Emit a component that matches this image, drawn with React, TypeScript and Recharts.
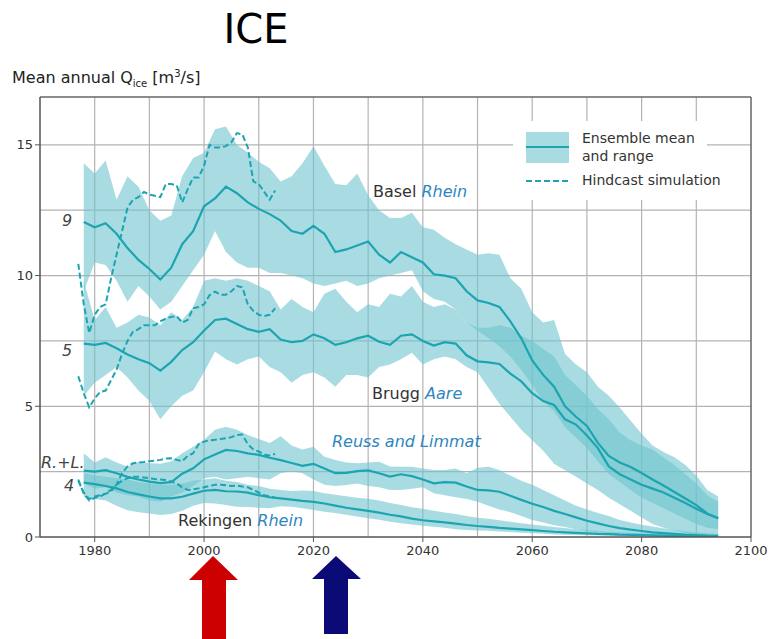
import { ComposedChart, Area, Line, XAxis, YAxis, CartesianGrid, ReferenceLine } from 'recharts';

const FONT = '"DejaVu Sans", "Liberation Sans", Arial, sans-serif';
const TEAL = '#1ca5b1';
const BAND = '#6ec5cf';
const BLUE_TXT = '#2e86c1';
const Y_MAX = 16.83;

// ensemble years (every 2nd year)
const years = [
  1978, 1980, 1982, 1984, 1986, 1988, 1990, 1992, 1994, 1996,
  1998, 2000, 2002, 2004, 2006, 2008, 2010, 2012, 2014, 2016,
  2018, 2020, 2022, 2024, 2026, 2028, 2030, 2032, 2034, 2036,
  2038, 2040, 2042, 2044, 2046, 2048, 2050, 2052, 2054, 2056,
  2058, 2060, 2062, 2064, 2066, 2068, 2070, 2072, 2074, 2076,
  2078, 2080, 2082, 2084, 2086, 2088, 2090, 2092, 2094,
];

// Basel Rhein (9)
const baselMean = [
  12.05, 11.85, 12.0, 11.6, 11.05, 10.6, 10.25, 9.85, 10.3, 11.2,
  11.7, 12.65, 12.95, 13.4, 13.15, 12.8, 12.55, 12.35, 12.1, 11.7,
  11.6, 11.9, 11.6, 10.9, 11.0, 11.15, 11.3, 10.8, 10.5, 10.9,
  10.7, 10.5, 10.05, 10.0, 9.9, 9.4, 9.05, 8.95, 8.8, 8.25,
  7.6, 6.75, 6.2, 5.75, 5.0, 4.6, 4.25, 3.6, 3.1, 2.85,
  2.68, 2.45, 2.2, 1.97, 1.72, 1.47, 1.22, 0.9, 0.72,
];
const baselHi = [
  14.3, 13.9, 14.4, 12.9, 13.8, 13.4, 12.5, 12.1, 12.3, 13.8,
  14.5, 14.7, 15.6, 15.7, 15.0, 14.7, 14.35, 14.1, 13.6, 13.8,
  14.3, 14.95, 14.2, 13.5, 13.45, 13.9, 13.07, 12.5, 12.2, 12.2,
  12.4, 11.85, 11.75, 11.45, 11.2, 11.0, 10.8, 10.85, 10.8, 9.9,
  9.5, 8.6, 8.2, 8.3, 7.0, 6.6, 6.3, 5.75, 5.4, 4.95,
  4.45, 3.95, 3.5, 3.25, 3.05, 2.75, 2.35, 1.8, 1.55,
];
const baselLo = [
  9.4, 10.5, 10.4, 9.8, 9.0, 9.6, 9.2, 8.7, 9.0, 9.6,
  10.2, 10.8, 11.7, 10.9, 10.5, 10.3, 10.3, 10.1, 10.1, 10.0,
  9.9, 9.7, 9.6, 9.7, 9.8, 9.6, 9.7, 9.9, 10.0, 10.1,
  10.2, 9.4, 9.1, 9.0, 8.7, 8.2, 7.9, 7.6, 7.3, 6.9,
  6.4, 5.8, 5.2, 4.8, 4.2, 3.8, 3.4, 2.9, 2.4, 2.1,
  1.8, 1.5, 1.3, 1.1, 0.9, 0.7, 0.5, 0.35, 0.3,
];

// Brugg Aare (5)
const aareMean = [
  7.4, 7.35, 7.42, 7.22, 6.98, 6.8, 6.65, 6.36, 6.7, 7.15,
  7.45, 7.9, 8.3, 8.35, 8.15, 7.95, 7.85, 7.95, 7.55, 7.45,
  7.5, 7.75, 7.6, 7.35, 7.45, 7.6, 7.7, 7.47, 7.35, 7.7,
  7.75, 7.5, 7.32, 7.45, 7.4, 6.95, 6.72, 6.68, 6.62, 6.25,
  5.95, 5.5, 5.2, 5.05, 4.5, 4.3, 3.88, 3.4, 2.7, 2.4,
  2.2, 2.0, 1.85, 1.7, 1.5, 1.3, 1.08, 0.88, 0.72,
];
const aareHi = [
  9.8, 8.3, 8.8, 8.0, 8.2, 8.5, 8.4, 8.1, 8.6, 8.3,
  8.8, 9.8, 9.9, 9.8, 9.9, 9.8, 9.6, 9.4, 8.7, 9.1,
  8.8, 8.6, 9.3, 9.5, 9.0, 8.6, 8.9, 8.8, 9.3, 9.2,
  9.6, 9.0, 8.8, 8.9, 8.7, 8.2, 8.0, 8.0, 8.1, 8.0,
  7.7, 7.5, 7.2, 6.9, 6.2, 5.8, 5.4, 4.9, 4.5, 4.0,
  3.7, 3.5, 3.35, 3.05, 2.75, 2.4, 2.05, 1.6, 1.35,
];
const aareLo = [
  5.4, 5.9, 6.2, 6.5, 6.1, 5.6, 5.2, 4.5, 5.0, 5.4,
  5.6, 6.3, 7.1, 6.8, 6.6, 6.8, 6.9, 6.5, 6.3, 5.9,
  6.2, 6.3, 6.1, 5.75, 6.2, 6.2, 6.1, 6.5, 6.6, 6.8,
  7.05, 6.6, 6.8, 6.9, 6.8, 6.5, 6.3, 5.7, 5.1, 4.6,
  4.1, 3.7, 3.3, 2.8, 2.55, 2.3, 2.05, 1.8, 1.5, 1.25,
  1.0, 0.75, 0.5, 0.35, 0.25, 0.15, 0.1, 0.07, 0.05,
];

// Reuss and Limmat (R.+L.)
const rlMean = [
  2.54, 2.5, 2.56, 2.44, 2.3, 2.2, 2.12, 2.06, 2.1, 2.42,
  2.63, 2.97, 3.16, 3.33, 3.29, 3.2, 3.14, 3.03, 2.94, 2.83,
  2.72, 2.8, 2.62, 2.44, 2.45, 2.52, 2.55, 2.44, 2.31, 2.4,
  2.33, 2.2, 2.05, 2.1, 2.08, 1.93, 1.8, 1.78, 1.73, 1.58,
  1.42, 1.27, 1.15, 1.0, 0.88, 0.75, 0.62, 0.52, 0.42, 0.34,
  0.28, 0.23, 0.18, 0.15, 0.12, 0.09, 0.07, 0.05, 0.04,
];
const rlHi = [
  3.2, 2.85, 3.05, 2.85, 2.7, 2.88, 2.82, 2.8, 2.9, 3.2,
  3.45, 3.72, 4.1, 4.22, 4.1, 3.9, 3.75, 3.6, 3.85, 3.5,
  3.35, 3.45, 3.07, 2.95, 2.85, 2.82, 2.85, 2.88, 2.7, 2.69,
  2.69, 2.62, 2.56, 2.56, 2.62, 2.44, 2.65, 2.69, 2.56, 2.35,
  2.15, 2.0, 1.8, 1.6, 1.4, 1.2, 1.05, 0.92, 0.8, 0.65,
  0.55, 0.47, 0.4, 0.33, 0.27, 0.22, 0.18, 0.14, 0.12,
];
const rlLo = [
  2.05, 1.85, 1.9, 1.7, 1.6, 1.55, 1.4, 1.35, 1.55, 1.7,
  1.95, 2.25, 2.3, 2.2, 2.25, 2.3, 2.25, 2.2, 2.44, 2.52,
  2.44, 2.2, 2.0, 1.95, 1.99, 2.05, 1.95, 1.9, 1.8, 1.8,
  1.85, 1.9, 1.67, 1.6, 1.52, 1.45, 1.35, 1.2, 1.05, 0.95,
  0.8, 0.65, 0.55, 0.45, 0.38, 0.3, 0.22, 0.17, 0.13, 0.1,
  0.08, 0.06, 0.05, 0.04, 0.03, 0.02, 0.02, 0.01, 0.01,
];

// Rekingen Rhein (4)
const rekMean = [
  2.08, 2.02, 1.95, 1.86, 1.72, 1.63, 1.55, 1.48, 1.48, 1.54,
  1.66, 1.77, 1.8, 1.75, 1.74, 1.7, 1.6, 1.52, 1.48, 1.43,
  1.38, 1.34, 1.28, 1.2, 1.12, 1.06, 1.0, 0.93, 0.85, 0.79,
  0.7, 0.64, 0.6, 0.56, 0.51, 0.46, 0.42, 0.39, 0.35, 0.32,
  0.29, 0.26, 0.23, 0.2, 0.18, 0.16, 0.14, 0.12, 0.11, 0.09,
  0.08, 0.07, 0.06, 0.05, 0.04, 0.04, 0.03, 0.03, 0.02,
];
const rekHi = [
  2.45, 2.35, 2.3, 2.25, 2.2, 2.1, 2.05, 2.0, 2.0, 2.05,
  2.15, 2.2, 2.25, 2.15, 2.1, 2.0, 1.95, 1.85, 1.8, 1.76,
  1.78, 1.76, 1.67, 1.62, 1.56, 1.5, 1.46, 1.4, 1.3, 1.22,
  1.14, 1.08, 1.0, 0.94, 0.88, 0.8, 0.74, 0.7, 0.64, 0.58,
  0.53, 0.48, 0.43, 0.38, 0.34, 0.3, 0.27, 0.23, 0.2, 0.18,
  0.16, 0.14, 0.12, 0.11, 0.1, 0.09, 0.08, 0.07, 0.06,
];
const rekLo = [
  1.55, 1.45, 1.4, 1.2, 1.02, 0.95, 0.9, 0.84, 0.88, 1.0,
  1.2, 1.3, 1.28, 1.22, 1.16, 1.15, 1.12, 1.1, 1.18, 1.16,
  1.1, 1.03, 0.97, 0.92, 0.85, 0.78, 0.72, 0.66, 0.58, 0.53,
  0.48, 0.43, 0.39, 0.35, 0.3, 0.27, 0.25, 0.24, 0.21, 0.19,
  0.16, 0.14, 0.12, 0.1, 0.09, 0.08, 0.07, 0.06, 0.05, 0.04,
  0.03, 0.03, 0.02, 0.02, 0.01, 0.01, 0.01, 0, 0,
];

// hindcast simulation, annual 1977-2013
const hindYears = [
  1977, 1978, 1979, 1980, 1981, 1982, 1983, 1984, 1985, 1986,
  1987, 1988, 1989, 1990, 1991, 1992, 1993, 1994, 1995, 1996,
  1997, 1998, 1999, 2000, 2001, 2002, 2003, 2004, 2005, 2006,
  2007, 2008, 2009, 2010, 2011, 2012, 2013,
];
const baselHind = [
  10.45, 8.9, 7.8, 8.5, 8.8, 8.9, 9.9, 10.8, 11.7, 12.6,
  12.9, 13.0, 13.2, 13.1, 13.05, 13.0, 13.5, 13.5, 13.45, 12.8,
  13.3, 13.75, 13.75, 14.2, 15.0, 14.9, 14.9, 14.95, 15.1, 15.45,
  15.4, 14.9, 13.6, 13.5, 13.2, 12.9, 13.25,
];
const aareHind = [
  6.15, 5.5, 4.96, 5.3, 5.55, 5.6, 6.0, 6.4, 7.0, 7.5,
  7.85, 7.95, 8.1, 8.1, 8.1, 8.25, 8.35, 8.42, 8.45, 8.2,
  8.3, 8.75, 8.8, 8.9, 9.25, 9.38, 9.27, 9.27, 9.4, 9.6,
  9.55, 8.9, 8.65, 8.5, 8.45, 8.5, 8.75,
];
const rlHind = [
  2.2, 1.65, 1.4, 1.5, 1.55, 1.67, 1.8, 2.0, 2.45, 2.7,
  2.82, 2.85, 2.87, 2.9, 2.92, 2.95, 3.0, 3.01, 2.95, 2.9,
  3.1, 3.2, 3.55, 3.65, 3.7, 3.72, 3.75, 3.78, 3.82, 3.9,
  3.92, 3.55, 3.35, 3.27, 3.15, 3.12, 3.18,
];
const rekHind = [
  2.15, 1.7, 1.45, 1.55, 1.6, 1.65, 1.75, 2.0, 2.15, 2.25,
  2.3, 2.3, 2.28, 2.25, 2.22, 2.2, 2.18, 2.12, 2.05, 1.9,
  1.8, 1.82, 1.86, 1.9, 1.95, 2.0, 2.0, 1.98, 1.95, 1.97,
  1.93, 1.9, 1.8, 1.7, 1.6, 1.55, 1.5,
];

const xTicks = [1980, 2000, 2020, 2040, 2060, 2080, 2100];
const yTicks = [0, 5, 10, 15];
const gridX = [1980, 1990, 2000, 2010, 2020, 2030, 2040, 2050, 2060, 2070, 2080, 2090];
const gridY = [2.5, 5, 7.5, 10, 12.5, 15];

const ensemble = years.map((year, i) => ({
  year,
  baselMean: baselMean[i],
  basel: [baselLo[i], baselHi[i]],
  aareMean: aareMean[i],
  aare: [aareLo[i], aareHi[i]],
  rlMean: rlMean[i],
  rl: [rlLo[i], rlHi[i]],
  rekMean: rekMean[i],
  rek: [rekLo[i], rekHi[i]],
}));

const hindcast = hindYears.map((year, i) => ({
  year,
  basel: baselHind[i],
  aare: aareHind[i],
  rl: rlHind[i],
  rek: rekHind[i],
}));

const bands = ['basel', 'aare', 'rl', 'rek'];
const means = ['baselMean', 'aareMean', 'rlMean', 'rekMean'];

function Overlay() {
  const label = { fontFamily: FONT, fontSize: 16, fill: '#333' };
  const num = { fontFamily: FONT, fontSize: 16, fill: '#444', fontStyle: 'italic' as const };
  return (
    <svg width={770} height={639} style={{ position: 'absolute', left: 0, top: 0, pointerEvents: 'none' }}>
      <text x={256} y={43} textAnchor="middle" fontFamily={FONT} fontSize={40} fill="#000">ICE</text>
      <text x={12} y={83} fontFamily={FONT} fontSize={16} fill="#222">
        Mean annual Q<tspan fontSize={10} dy={4}>ice</tspan>
        <tspan fontSize={16} dy={-4}> [m</tspan>
        <tspan fontSize={10} dy={-6}>3</tspan>
        <tspan fontSize={16} dy={6}>/s]</tspan>
      </text>

      {/* legend */}
      <rect x={513} y={121} width={194} height={79} fill="#fff" />
      <rect x={526} y={132} width={43} height={31} fill={BAND} fillOpacity={0.6} />
      <line x1={526} x2={569} y1={147} y2={147} stroke={TEAL} strokeWidth={2} />
      <line x1={526} x2={569} y1={181} y2={181} stroke={TEAL} strokeWidth={2} strokeDasharray="6 3" />
      <text x={582} y={143} fontFamily={FONT} fontSize={14} fill="#333">Ensemble mean</text>
      <text x={582} y={161} fontFamily={FONT} fontSize={14} fill="#333">and range</text>
      <text x={582} y={185} fontFamily={FONT} fontSize={14} fill="#333">Hindcast simulation</text>

      {/* series labels */}
      <text x={373} y={197} {...label}>Basel <tspan fill={BLUE_TXT} fontStyle="italic">Rhein</tspan></text>
      <text x={372} y={399} {...label}>Brugg <tspan fill={BLUE_TXT} fontStyle="italic">Aare</tspan></text>
      <text x={332} y={447} {...label} fill={BLUE_TXT} fontStyle="italic">Reuss and Limmat</text>
      <text x={178} y={526} {...label}>Rekingen <tspan fill={BLUE_TXT} fontStyle="italic">Rhein</tspan></text>
      <text x={62} y={226} {...num}>9</text>
      <text x={62} y={356} {...num}>5</text>
      <text x={41} y={468} {...num}>R.+L.</text>
      <text x={64} y={491} {...num}>4</text>

      {/* arrows */}
      <polygon points="213,556 238,580 226,580 226,639 202,639 202,580 189,580" fill="#cc0000" />
      <polygon points="336,556 361,579 348,579 348,634 324,634 324,579 312,579" fill="#0b0b78" />
    </svg>
  );
}

export default function App() {
  return (
    <div style={{ position: 'absolute', left: 0, top: 0, width: 770, height: 639, background: '#fff' }}>
      <ComposedChart
        width={770}
        height={639}
        data={ensemble}
        margin={{ top: 97, right: 19, bottom: 0, left: 0 }}
        style={{ fontFamily: FONT }}
      >
        <CartesianGrid stroke="#b3b3b3" strokeWidth={1.2} verticalValues={gridX} horizontalValues={gridY} />
        <XAxis
          type="number"
          dataKey="year"
          domain={[1970, 2100]}
          ticks={xTicks}
          height={102}
          allowDataOverflow
          tick={{ fill: '#333', fontSize: 13 }}
          tickSize={5}
          tickMargin={4}
          stroke="#555"
          axisLine={{ stroke: '#555', strokeWidth: 1.5 }}
        />
        <YAxis
          type="number"
          domain={[0, Y_MAX]}
          ticks={yTicks}
          width={40}
          allowDataOverflow
          tick={{ fill: '#333', fontSize: 13 }}
          tickSize={5}
          stroke="#555"
          axisLine={{ stroke: '#555', strokeWidth: 1.5 }}
        />
        {bands.map((k) => (
          <Area
            key={k}
            type="linear"
            dataKey={k}
            stroke="none"
            fill={BAND}
            fillOpacity={0.6}
            dot={false}
            activeDot={false}
            isAnimationActive={false}
          />
        ))}
        {means.map((k) => (
          <Line
            key={k}
            type="linear"
            dataKey={k}
            stroke={TEAL}
            strokeWidth={2.2}
            dot={false}
            activeDot={false}
            isAnimationActive={false}
          />
        ))}
        {bands.map((k) => (
          <Line
            key={'h' + k}
            data={hindcast}
            type="linear"
            dataKey={k}
            stroke={TEAL}
            strokeWidth={2}
            strokeDasharray="6 3"
            dot={false}
            activeDot={false}
            isAnimationActive={false}
          />
        ))}
        <ReferenceLine y={Y_MAX} stroke="#666" strokeWidth={1.5} />
        <ReferenceLine x={2100} stroke="#666" strokeWidth={1.5} />
      </ComposedChart>
      <Overlay />
    </div>
  );
}
